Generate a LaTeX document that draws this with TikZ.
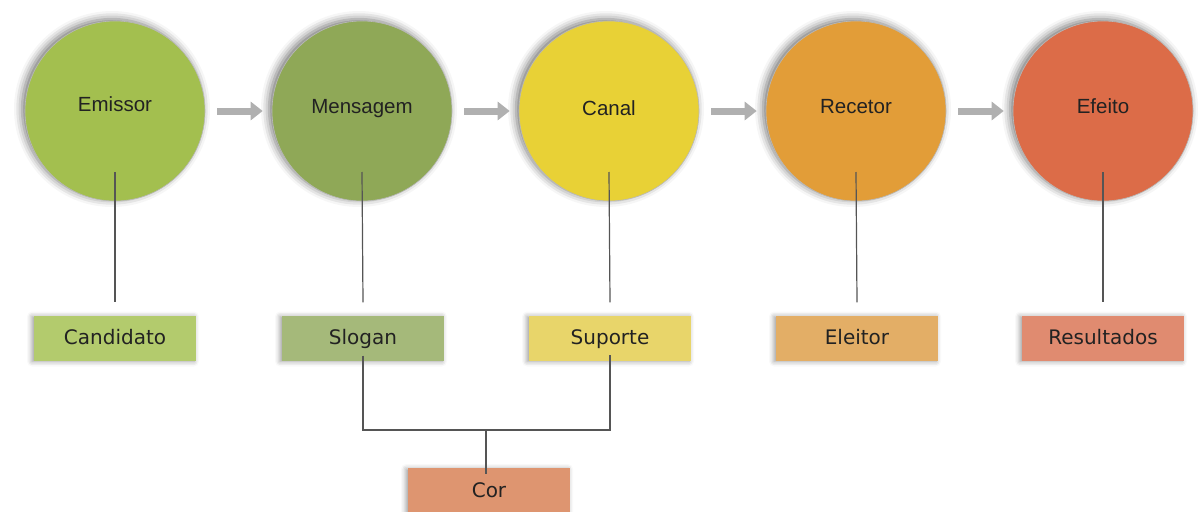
\documentclass[tikz,border=0pt]{standalone}
\usepackage{fontspec}
\setmainfont{Liberation Sans}
\newfontfamily\boxfont{DejaVu Sans}
\usetikzlibrary{shadows.blur,arrows.meta}
\definecolor{cEmi}{HTML}{A3BF4F}
\definecolor{cMen}{HTML}{8FA857}
\definecolor{cCan}{HTML}{E8D136}
\definecolor{cRec}{HTML}{E29D38}
\definecolor{cEfe}{HTML}{DC6C48}
\definecolor{bCand}{HTML}{B3CB6D}
\definecolor{bSlo}{HTML}{A5B97A}
\definecolor{bSup}{HTML}{E8D56A}
\definecolor{bEle}{HTML}{E3AE66}
\definecolor{bRes}{HTML}{E08B70}
\definecolor{bCor}{HTML}{DE9570}
\definecolor{txt}{HTML}{222222}
\definecolor{lin}{HTML}{555555}
\definecolor{arr}{HTML}{B0B0B0}
\tikzset{
  bubble/.style={circle, minimum size=180pt, inner sep=0pt, draw=gray!55, line width=0.6pt,
    font=\fontsize{20.5}{22}\selectfont, text=txt, text height=14.8pt, text depth=0pt,
    blur shadow={shadow xshift=-3pt, shadow yshift=2pt, shadow blur radius=8pt, shadow opacity=55}},
  tag/.style={rectangle, minimum width=162pt, minimum height=45pt, inner sep=0pt,
    font=\boxfont\fontsize{20}{22}\selectfont, text=txt, text height=14.6pt, text depth=0pt,
    blur shadow={shadow xshift=-2pt, shadow yshift=-1pt, shadow blur radius=5pt, shadow opacity=40}},
  conn/.style={draw=lin, line width=1.2pt},
  flow/.style={draw=arr, line width=7pt, -{Triangle[length=12pt,width=18pt]}, shorten <=12pt, shorten >=9pt},
}
\begin{document}
\begin{tikzpicture}[x=1pt,y=-1pt]
\useasboundingbox (0,0) rectangle (1198,511);
\node[bubble, fill=cEmi] (emi) at (115,111) {\raisebox{7pt}{Emissor}};
\node[bubble, fill=cMen] (men) at (362,111) {\raisebox{5pt}{Mensagem}};
\node[bubble, fill=cCan] (can) at (609,111) {\raisebox{3pt}{Canal}};
\node[bubble, fill=cRec] (rec) at (856,111) {\raisebox{5pt}{Recetor}};
\node[bubble, fill=cEfe] (efe) at (1103,111) {\raisebox{5pt}{Efeito}};

\draw[flow] (emi) -- (men);
\draw[flow] (men) -- (can);
\draw[flow] (can) -- (rec);
\draw[flow] (rec) -- (efe);

\node[tag, fill=bCand] (cand) at (115,338) {\raisebox{1pt}{Candidato}};
\node[tag, fill=bSlo] (slo) at (363,338) {\raisebox{1pt}{Slogan}};
\node[tag, fill=bSup] (sup) at (610,338) {\raisebox{1pt}{Suporte}};
\node[tag, fill=bEle] (ele) at (857,338) {\raisebox{1pt}{Eleitor}};
\node[tag, fill=bRes] (res) at (1103,338) {\raisebox{1pt}{Resultados}};
\node[tag, fill=bCor] (cor) at (489,490.5) {Cor};

\draw[conn] ([yshift=-61pt]emi.center) -- ([yshift=13pt]cand.north);
\draw[conn] ([yshift=-61pt]men.center) -- ([yshift=13pt]slo.north);
\draw[conn] ([yshift=-61pt]can.center) -- ([yshift=13pt]sup.north);
\draw[conn] ([yshift=-61pt]rec.center) -- ([yshift=13pt]ele.north);
\draw[conn] ([yshift=-61pt]efe.center) -- ([yshift=13pt]res.north);

\coordinate (j) at (486,430);
\draw[conn] ([yshift=5pt]slo.south) -- (slo.south |- j) -- (sup.south |- j) -- ([yshift=6pt]sup.south);
\draw[conn] (j) -- ([yshift=-6pt]j |- cor.north);
\end{tikzpicture}
\end{document}
